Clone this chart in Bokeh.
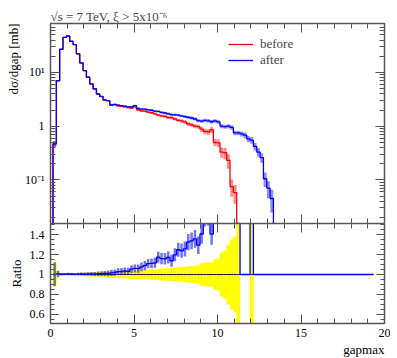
import numpy as np
from bokeh.plotting import figure
from bokeh.models import (FixedTicker, CustomJSTickFormatter, LinearAxis, LogAxis,
                          Range1d, Title)
from bokeh.layouts import column
from bokeh.embed import file_html
from bokeh.resources import INLINE

# ---------------- data ----------------
bin_start = 0.15
bin_width = 0.2
hist_end = 19.35

before = [0.47, 7.0, 27, 45, 47.5, 38, 33, 22.2, 15.0, 10.8,
          8.1, 6.1, 4.95, 3.95, 3.55, 3.05, 2.95, 2.45, 2.5, 2.4,
          2.33, 2.28, 2.22, 2.18, 2.28, 2.02, 1.93, 1.9, 1.82, 1.78,
          1.70, 1.6, 1.56, 1.52, 1.45, 1.44, 1.36, 1.28, 1.25, 1.2,
          1.1, 1.06, 1.0, 0.98, 0.88, 0.80, 0.78, 0.86, 0.50, 0.49,
          0.33, 0.32, 0.23, 0.075, 0.058, 0.008, 0, 0, 0, 0.005,
          0, 0, 0, 0, 0, 0]
after = [0.47, 7.05, 27.1, 45.2, 47.8, 38.2, 33.1, 22.3, 15.1, 10.85,
         8.15, 6.14, 4.98, 3.98, 3.58, 3.08, 2.98, 2.49, 2.55, 2.47,
         2.4, 2.36, 2.29, 2.30, 2.42, 2.14, 2.08, 2.07, 2.02, 1.98,
         1.9, 1.88, 1.81, 1.76, 1.7, 1.64, 1.63, 1.6, 1.55, 1.51,
         1.46, 1.42, 1.36, 1.27, 1.24, 1.28, 1.26, 1.21, 1.25, 1.2,
         1.0, 0.98, 1.0, 0.95, 0.75, 0.75, 0.72, 0.68, 0.58, 0.55,
         0.42, 0.33, 0.26, 0.105, 0.07, 0.045]
before_relerr = [0.12, 0.03, 0.012, 0.01, 0.01, 0.01, 0.01, 0.012, 0.014, 0.015,
                 0.017, 0.018, 0.02, 0.022, 0.024, 0.026, 0.028, 0.032, 0.033, 0.035,
                 0.036, 0.037, 0.038, 0.04, 0.041, 0.042, 0.044, 0.046, 0.048, 0.05,
                 0.052, 0.054, 0.056, 0.058, 0.06, 0.062, 0.065, 0.07, 0.072, 0.075,
                 0.08, 0.082, 0.085, 0.09, 0.11, 0.115, 0.12, 0.12, 0.15, 0.16,
                 0.22, 0.24, 0.3, 0.35, 0.38, 1.0, 0, 0, 0, 1.0,
                 0, 0, 0, 0, 0, 0]
after_relerr = [0.12, 0.03, 0.012, 0.01, 0.01, 0.01, 0.01, 0.012, 0.014, 0.015,
                0.017, 0.018, 0.02, 0.022, 0.024, 0.025, 0.027, 0.03, 0.031, 0.033,
                0.034, 0.035, 0.036, 0.037, 0.038, 0.04, 0.041, 0.042, 0.043, 0.044,
                0.045, 0.046, 0.048, 0.05, 0.052, 0.054, 0.055, 0.056, 0.058, 0.06,
                0.062, 0.064, 0.066, 0.068, 0.07, 0.072, 0.074, 0.076, 0.078, 0.08,
                0.085, 0.09, 0.09, 0.095, 0.1, 0.1, 0.11, 0.12, 0.13, 0.14,
                0.16, 0.18, 0.2, 0.3, 0.35, 0.45]

x_ticks = [0, 5, 10, 15, 20]
x_minor_ticks = list(range(0, 21))
main_y_ticks = [0.1, 1, 10]
main_y_labels = ["10\u207b\u00b9", "1", "10\u00b9"]
ratio_ticks = [0.6, 0.8, 1.0, 1.2, 1.4]
ratio_labels = ["0.6", "0.8", "1", "1.2", "1.4"]

title_text = "\u221as = 7 TeV, \u03be > 5x10\u207b\u2076"
ylabel_text = "d\u03c3/dgap [mb]"
ratio_label_text = "Ratio"
xlabel_text = "gapmax"
legend_labels = ["before", "after"]

# ---------------- styling ----------------
FONT = "Liberation Serif, serif"
AX = "#555555"
RED = "#ff0000"
BLUE = "#0000ff"

log_minor = [m * 10.0 ** e for e in (-2, -1, 0, 1) for m in range(2, 10)]
ratio_minor = [float(v) for v in np.round(np.arange(0.5, 1.5001, 0.05), 3)]


def fmt(tick_vals, tick_labels):
    return CustomJSTickFormatter(args=dict(tv=tick_vals, tl=tick_labels), code="""
        for (let i = 0; i < tv.length; i++) {
            if (Math.abs(tv[i] - tick) < 1e-6 * Math.max(1, Math.abs(tv[i]))) return tl[i];
        }
        return "";
    """)


def style_axis(ax, labels=True, major=9, minor=5, size="12px"):
    ax.axis_line_color = AX
    ax.axis_line_width = 1.5
    ax.major_tick_line_color = AX
    ax.minor_tick_line_color = AX
    ax.major_tick_in = major
    ax.major_tick_out = 0
    ax.minor_tick_in = minor
    ax.minor_tick_out = 0
    ax.axis_label_standoff = 0
    ax.major_label_text_font = FONT
    ax.major_label_text_font_size = size
    ax.major_label_text_color = "#000000"
    if not labels:
        ax.major_label_text_font_size = "1px"
        ax.major_label_text_alpha = 0
        ax.major_label_standoff = 0


def text_title(text, align, standoff):
    return Title(text=text, align=align, text_font=FONT, text_font_size="13px",
                 text_font_style="normal", text_color="#000000", standoff=standoff)


xr = Range1d(0, 20)

# ---------------- main panel ----------------
p = figure(width=390, height=223, x_range=xr, y_range=Range1d(0.0154, 81.7),
           y_axis_type="log", output_backend="svg", toolbar_location=None,
           min_border_left=50, min_border_right=6, min_border_top=23, min_border_bottom=0)
p.grid.visible = False
p.outline_line_color = None
p.title.text = title_text
p.title.align = "left"
p.title.text_font = FONT
p.title.text_font_size = "13px"
p.title.text_font_style = "normal"
p.title.standoff = 0

edges = bin_start + bin_width * np.arange(len(before) + 1)
centers = edges[:-1] + bin_width / 2
floor = 1e-4


def step_xy(vals):
    v = np.asarray(vals, float)
    v = np.where(v > 0, v, floor)
    xs = np.repeat(edges, 2)
    ys = np.concatenate([[floor], np.repeat(v, 2), [floor]])
    return xs, ys


def err_seg(vals, rel):
    v = np.asarray(vals, float)
    e = np.asarray(rel, float)
    m = v > 0
    lo = np.maximum(v * (1 - e), floor)
    hi = v * (1 + e)
    return centers[m], lo[m], hi[m]


c, lo, hi = err_seg(before, before_relerr)
p.segment(x0=c, y0=lo, x1=c, y1=hi, line_color=RED, line_alpha=0.45, line_width=3)
c, lo, hi = err_seg(after, after_relerr)
p.segment(x0=c, y0=lo, x1=c, y1=hi, line_color=BLUE, line_alpha=0.45, line_width=3)

xs, ys = step_xy(before)
p.line(xs, ys, line_color=RED, line_width=1.3, legend_label=legend_labels[0])
xs, ys = step_xy(after)
p.line(xs, ys, line_color=BLUE, line_width=1.3, legend_label=legend_labels[1])

p.legend.location = (178, 155)
p.legend.padding = 0
p.legend.spacing = 0
p.legend.margin = 0
p.legend.label_height = 16
p.legend.glyph_height = 16
p.legend.glyph_width = 25
p.legend.label_standoff = 7
p.legend.border_line_alpha = 0
p.legend.background_fill_alpha = 0
p.legend.label_text_font = FONT
p.legend.label_text_font_size = "13px"

p.yaxis[0].ticker = FixedTicker(ticks=main_y_ticks, minor_ticks=log_minor)
p.yaxis[0].formatter = fmt(main_y_ticks, main_y_labels)
style_axis(p.yaxis[0])
p.yaxis[0].major_label_standoff = 6
p.xaxis[0].ticker = FixedTicker(ticks=x_ticks, minor_ticks=x_minor_ticks)
style_axis(p.xaxis[0], labels=False)

ra = LogAxis(ticker=FixedTicker(ticks=main_y_ticks, minor_ticks=log_minor))
style_axis(ra, labels=False)
p.add_layout(ra, "right")
ta = LinearAxis(ticker=FixedTicker(ticks=x_ticks, minor_ticks=x_minor_ticks))
style_axis(ta, labels=False)
p.add_layout(ta, "above")
p.add_layout(text_title(ylabel_text, "right", 2), "left")

# ---------------- ratio panel ----------------
r = figure(width=390, height=134, x_range=xr, y_range=Range1d(0.505, 1.515),
           output_backend="svg", toolbar_location=None,
           min_border_left=50, min_border_right=6, min_border_top=0, min_border_bottom=34)
r.grid.visible = False
r.outline_line_color = None

n_all = int(round((hist_end - bin_start) / bin_width))
edges_all = bin_start + bin_width * np.arange(n_all + 1)
centers_all = edges_all[:-1] + bin_width / 2
b = np.pad(np.asarray(before, float), (0, n_all - len(before)))
a = np.pad(np.asarray(after, float), (0, n_all - len(after)))
be = np.pad(np.asarray(before_relerr, float), (0, n_all - len(before)))
ae = np.pad(np.asarray(after_relerr, float), (0, n_all - len(after)))
mb = b > 0
ratio = np.where(mb, a / np.where(mb, b, 1.0), 1.0)

r.quad(left=edges_all[:-1][mb], right=edges_all[1:][mb],
       bottom=(1 - be)[mb], top=(1 + be)[mb],
       fill_color="#ffff00", line_color="#ffff00", line_width=0.5)
r.segment(x0=edges_all[:-1][mb], y0=np.ones(mb.sum()), x1=edges_all[1:][mb],
          y1=np.ones(mb.sum()), line_color="#222222", line_width=1.2)
me = mb & (a > 0)
r.segment(x0=centers_all[me], y0=(ratio * (1 - ae))[me], x1=centers_all[me],
          y1=(ratio * (1 + ae))[me], line_color=BLUE, line_alpha=0.55, line_width=2.5)
r.line(np.repeat(edges_all, 2)[1:-1], np.repeat(ratio, 2), line_color=BLUE, line_width=1.3)

r.yaxis[0].ticker = FixedTicker(ticks=ratio_ticks, minor_ticks=ratio_minor)
r.yaxis[0].formatter = fmt(ratio_ticks, ratio_labels)
style_axis(r.yaxis[0], major=8, minor=4)
r.yaxis[0].major_label_standoff = 6
r.xaxis[0].ticker = FixedTicker(ticks=x_ticks, minor_ticks=x_minor_ticks)
style_axis(r.xaxis[0])
r.xaxis[0].major_label_standoff = 5

rra = LinearAxis(ticker=FixedTicker(ticks=ratio_ticks, minor_ticks=ratio_minor))
style_axis(rra, labels=False, major=8, minor=4)
r.add_layout(rra, "right")
rta = LinearAxis(ticker=FixedTicker(ticks=x_ticks, minor_ticks=x_minor_ticks))
style_axis(rta, labels=False)
r.add_layout(rta, "above")
r.add_layout(text_title(ratio_label_text, "center", 6), "left")
r.add_layout(text_title(xlabel_text, "right", 0), "below")

layout = column(p, r, spacing=0)
open("out.html", "w").write(file_html(layout, INLINE))
